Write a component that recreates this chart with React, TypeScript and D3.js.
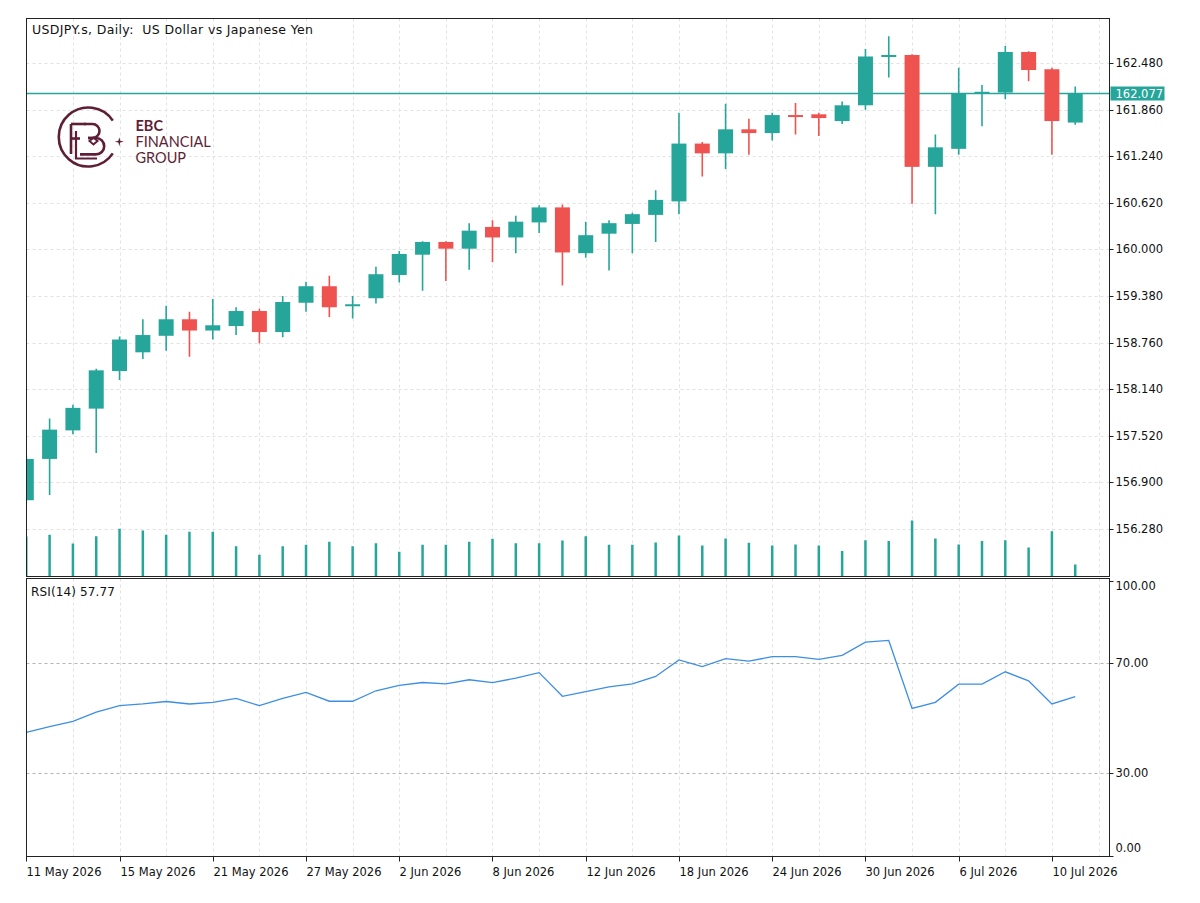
import React from "react";
import * as d3 from "d3";

// ---------- DATA ----------
const dateLabels = ["11 May 2026", "15 May 2026", "21 May 2026", "27 May 2026", "2 Jun 2026", "8 Jun 2026", "12 Jun 2026", "18 Jun 2026", "24 Jun 2026", "30 Jun 2026", "6 Jul 2026", "10 Jul 2026"];
const dateLabelIndex = [0, 4, 8, 12, 16, 20, 24, 28, 32, 36, 40, 44];

const opens = [156.66, 157.21, 157.59, 157.88, 158.38, 158.63, 158.85, 159.07, 158.92, 158.98, 159.18, 158.90, 159.29, 159.51, 159.25, 159.35, 159.66, 159.93, 160.10, 160.01, 160.30, 160.16, 160.36, 160.56, 159.95, 160.21, 160.34, 160.46, 160.64, 161.41, 161.28, 161.60, 161.55, 161.79, 161.80, 161.71, 161.92, 162.57, 162.59, 161.10, 161.34, 162.08, 162.09, 162.63, 162.40, 161.69];
const highs = [157.26, 157.75, 157.93, 158.41, 158.84, 159.07, 159.25, 159.17, 159.34, 159.23, 159.21, 159.38, 159.57, 159.65, 159.38, 159.77, 159.98, 160.11, 160.11, 160.35, 160.39, 160.45, 160.59, 160.60, 160.37, 160.39, 160.49, 160.79, 161.82, 161.43, 161.94, 161.74, 161.82, 161.95, 161.82, 161.97, 162.67, 162.84, 162.60, 161.53, 162.42, 162.19, 162.71, 162.64, 162.42, 162.17];
const lows = [156.62, 156.73, 157.54, 157.29, 158.26, 158.54, 158.65, 158.57, 158.80, 158.86, 158.75, 158.83, 159.17, 159.10, 159.08, 159.28, 159.56, 159.45, 159.58, 159.73, 159.83, 159.95, 160.22, 159.52, 159.89, 159.72, 159.95, 160.10, 160.47, 160.97, 161.07, 161.26, 161.45, 161.53, 161.51, 161.67, 161.86, 162.29, 160.61, 160.47, 161.26, 161.64, 162.00, 162.24, 161.26, 161.66];
const closes = [157.21, 157.60, 157.89, 158.39, 158.80, 158.86, 159.07, 158.92, 158.99, 159.18, 158.90, 159.30, 159.51, 159.23, 159.27, 159.67, 159.94, 160.10, 160.01, 160.25, 160.16, 160.37, 160.56, 159.96, 160.19, 160.35, 160.47, 160.66, 161.41, 161.28, 161.60, 161.55, 161.79, 161.78, 161.75, 161.92, 162.57, 162.59, 161.10, 161.36, 162.08, 162.10, 162.63, 162.39, 161.71, 162.077];
const volumes = [40000, 41700, 33000, 40300, 47700, 46000, 41700, 44700, 44700, 30300, 21700, 30300, 31700, 34700, 30300, 33300, 24700, 31700, 31700, 34700, 37700, 33300, 33300, 36000, 40300, 31700, 31700, 34000, 41000, 31000, 38000, 33800, 31000, 32000, 31000, 25500, 36300, 35600, 56000, 38000, 32000, 35600, 36300, 29100, 45300, 12000];
const rsi = [44.8, 46.9, 48.8, 52.1, 54.5, 55.1, 56.0, 55.1, 55.7, 57.1, 54.5, 57.1, 59.3, 56.1, 56.1, 59.9, 61.9, 62.9, 62.4, 63.9, 62.9, 64.5, 66.5, 57.9, 59.6, 61.3, 62.4, 65.1, 71.1, 68.7, 71.6, 70.7, 72.3, 72.3, 71.3, 72.8, 77.6, 78.2, 53.5, 55.7, 62.3, 62.3, 66.8, 63.5, 55.1, 57.77];

const priceTicks = [156.28, 156.9, 157.52, 158.14, 158.76, 159.38, 160.0, 160.62, 161.24, 161.86, 162.48];
const rsiTicks = [100, 70, 30, 0];
const rsiLevels = [70, 30];
const bidPrice = 162.077;
const title = "USDJPY.s, Daily:  US Dollar vs Japanese Yen";
const rsiTitle = "RSI(14) 57.77";

// ---------- LAYOUT ----------
const W = 1200;
const H = 903;
const L = 26.5;
const R = 1109.5;
const MT = 18.5;
const MB = 576.5;
const RT = 578.5;
const RB = 856.5;

const BULL = "#26a69a";
const BEAR = "#ef5350";
const GRID = "#e2e2e2";
const FONT = "DejaVu Sans, Verdana, sans-serif";
const LOGO = "#5e1f36";

export default function App() {
  const n = closes.length;
  const x = d3.scaleLinear().domain([0, 46.47]).range([26.3, R]);
  const y = d3.scaleLinear().domain([155.644, 163.076]).range([MB, MT]);
  const yr = d3.scaleLinear().domain([0, 100]).range([855.5, 580.5]);
  const yv = d3.scaleLinear().domain([0, d3.max(volumes) as number]).range([MB, MB - 56]);
  const bodyW = 15;

  const gridIdx = d3.range(2, 47, 2);
  const rsiLine = d3
    .line<number>()
    .x((_, i) => x(i))
    .y((d) => yr(d));

  const idx = d3.range(n);

  return (
    <svg
      width={W}
      height={H}
      style={{ position: "absolute", left: 0, top: 0, background: "#fff" }}
      fontFamily={FONT}
    >
      <rect x={0} y={0} width={W} height={H} fill="#fff" />
      <defs>
        <clipPath id="mainClip">
          <rect x={L} y={MT} width={R - L} height={MB - MT} />
        </clipPath>
        <clipPath id="rsiClip">
          <rect x={L} y={RT} width={R - L} height={RB - RT} />
        </clipPath>
      </defs>

      {/* main grid */}
      <g stroke={GRID} strokeWidth={1} strokeDasharray="3 3">
        {gridIdx.map((i) => (
          <line key={"vg" + i} x1={Math.round(x(i)) + 0.5} x2={Math.round(x(i)) + 0.5} y1={MT} y2={MB} />
        ))}
        {priceTicks.map((p) => (
          <line key={"hg" + p} x1={L} x2={R} y1={Math.round(y(p)) + 0.5} y2={Math.round(y(p)) + 0.5} />
        ))}
        {gridIdx.map((i) => (
          <line key={"rvg" + i} x1={Math.round(x(i)) + 0.5} x2={Math.round(x(i)) + 0.5} y1={RT} y2={RB} />
        ))}
      </g>

      {/* logo */}
      <g stroke={LOGO} fill="none" strokeWidth={2.6} strokeLinecap="butt">
        <path d="M112.8,120.6 A29.5,29.5 0 1 0 112.8,153.4" />
        <path d="M71,124 V154" />
        <path d="M71,124 H86" />
        <path d="M71,138.5 H80" />
        <path d="M76,131 V158.5 H97" strokeWidth={2.2} />
        <path d="M84,124 H92.5 A7,7 0 0 1 92.5,138 H88" />
        <path d="M88,138 H96 A8.2,8.2 0 0 1 96,154.4 H80" />
        <path d="M89.5,141 L93.5,137.5 L97.5,141 L93.5,144.5 Z" strokeWidth={2} />
      </g>
      <path
        d="M119.3,137.2 L120.2,140.8 L123.8,141.7 L120.2,142.6 L119.3,146.2 L118.4,142.6 L114.8,141.7 L118.4,140.8 Z"
        fill={LOGO}
      />
      <g fill={LOGO} fontFamily="Lato, 'Open Sans', sans-serif" fontSize={14.5}>
        <text x={135.5} y={130.5} fontWeight={700}>EBC</text>
        <text x={135.5} y={146.5}>FINANCIAL</text>
        <text x={135.5} y={162.5}>GROUP</text>
      </g>

      {/* volumes */}
      <g clipPath="url(#mainClip)" stroke={BULL} strokeWidth={2.5}>
        {idx.map((i) => (
          <line key={"v" + i} x1={x(i)} x2={x(i)} y1={MB} y2={yv(volumes[i])} />
        ))}
      </g>

      {/* bid line */}
      <line x1={L} x2={R} y1={y(bidPrice)} y2={y(bidPrice)} stroke={BULL} strokeWidth={1.3} />

      {/* candles */}
      <g clipPath="url(#mainClip)">
        {idx.map((i) => {
          const o = opens[i];
          const c = closes[i];
          const col = c >= o ? BULL : BEAR;
          const top = y(Math.max(o, c));
          const bot = y(Math.min(o, c));
          const cx = x(i);
          return (
            <g key={"c" + i}>
              <line x1={cx} x2={cx} y1={y(highs[i])} y2={y(lows[i])} stroke={col} strokeWidth={1.6} />
              <rect x={cx - bodyW / 2} y={top} width={bodyW} height={Math.max(bot - top, 2)} fill={col} />
            </g>
          );
        })}
      </g>

      {/* rsi levels */}
      <g stroke="#b5b5b5" strokeWidth={1} strokeDasharray="3 3">
        {rsiLevels.map((lv) => (
          <line key={"lv" + lv} x1={L} x2={R} y1={Math.round(yr(lv)) + 0.5} y2={Math.round(yr(lv)) + 0.5} />
        ))}
      </g>
      <path d={rsiLine(rsi) || ""} fill="none" stroke="#3d8fe3" strokeWidth={1.3} clipPath="url(#rsiClip)" />

      {/* frames */}
      <g fill="none" stroke="#222" strokeWidth={1}>
        <rect x={L} y={MT} width={R - L} height={MB - MT} />
        <rect x={L} y={RT} width={R - L} height={RB - RT} />
      </g>

      {/* price axis */}
      <g fontSize={11.5} fill="#111">
        {priceTicks.map((p) => (
          <g key={"pt" + p}>
            <line x1={R} x2={R + 4} y1={Math.round(y(p)) + 0.5} y2={Math.round(y(p)) + 0.5} stroke="#222" />
            <text x={R + 6} y={y(p) + 4}>{d3.format(".3f")(p)}</text>
          </g>
        ))}
      </g>
      <rect x={R + 1} y={y(bidPrice) - 7} width={54} height={14} fill={BULL} />
      <text x={R + 6} y={y(bidPrice) + 4} fontSize={11.5} fill="#fff">{d3.format(".3f")(bidPrice)}</text>

      {/* rsi axis */}
      <g fontSize={11.5} fill="#111">
        {rsiTicks.map((t) => {
          const ty = Math.round(yr(t)) + 0.5;
          const ly = Math.min(Math.max(yr(t), 586), 848);
          return (
            <g key={"rt" + t}>
              <line x1={R} x2={R + 4} y1={ty} y2={ty} stroke="#222" />
              <text x={R + 6} y={ly + 4}>{d3.format(".2f")(t)}</text>
            </g>
          );
        })}
      </g>

      {/* date axis */}
      <g fontSize={11.5} fill="#111">
        {dateLabelIndex.map((i, k) => {
          const tx = Math.round(x(i)) + 0.5;
          return (
            <g key={"dt" + i}>
              <line x1={tx} x2={tx} y1={RB} y2={RB + 5} stroke="#222" />
              <text x={tx} y={876}>{dateLabels[k]}</text>
            </g>
          );
        })}
      </g>

      {/* titles */}
      <text x={32} y={33.5} fontSize={12.5} fill="#111" xmlSpace="preserve" style={{ whiteSpace: "pre" }} textLength={281} lengthAdjust="spacing">{title}</text>
      <text x={31} y={595.5} fontSize={12} fill="#111" textLength={84} lengthAdjust="spacing">{rsiTitle}</text>
    </svg>
  );
}
